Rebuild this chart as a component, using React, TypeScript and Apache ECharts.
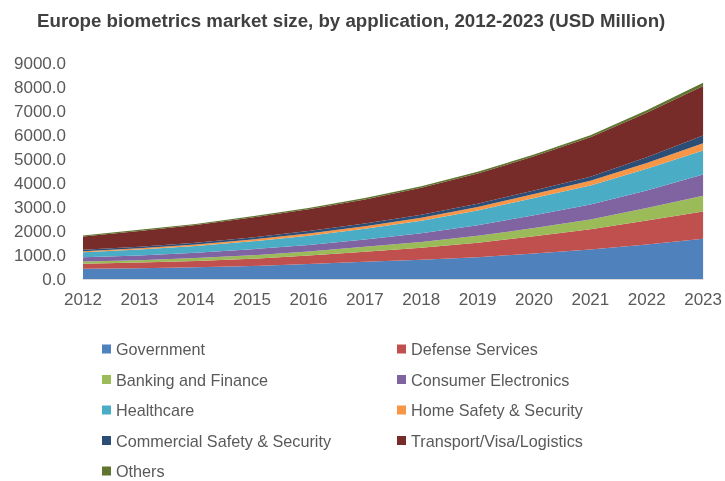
import React, { useEffect, useRef } from "react";
import * as echarts from "echarts";

const years = ["2012", "2013", "2014", "2015", "2016", "2017", "2018", "2019", "2020", "2021", "2022", "2023"];

const government = [430, 448, 490, 544, 628, 720, 800, 907, 1060, 1230, 1440, 1674];
const defense = [210, 235, 265, 300, 350, 420, 500, 600, 720, 840, 1000, 1142];
const banking = [85, 100, 120, 145, 170, 200, 240, 290, 340, 410, 520, 657];
const consumer = [184, 200, 220, 250, 270, 310, 370, 440, 540, 620, 730, 878];
const healthcare = [209, 245, 280, 330, 380, 440, 520, 620, 720, 800, 900, 1005];
const homeSafety = [43, 52, 60, 75, 95, 110, 125, 140, 160, 190, 240, 305];
const commercial = [53, 65, 80, 90, 105, 115, 125, 140, 150, 175, 240, 322];
const transport = [557, 660, 730, 830, 910, 1000, 1120, 1260, 1420, 1640, 1860, 2060];
const others = [40, 42, 45, 48, 52, 56, 62, 68, 76, 86, 100, 130];

const seriesNames = [
  "Government",
  "Defense Services",
  "Banking and Finance",
  "Consumer Electronics",
  "Healthcare",
  "Home Safety & Security",
  "Commercial Safety & Security",
  "Transport/Visa/Logistics",
  "Others",
];
const seriesData = [government, defense, banking, consumer, healthcare, homeSafety, commercial, transport, others];
const colors = ["#4f81bd", "#c0504d", "#9bbb59", "#8064a2", "#4bacc6", "#f79646", "#2c4d75", "#772c2a", "#5f7530"];

const leftLegend = ["Government", "Banking and Finance", "Healthcare", "Commercial Safety & Security", "Others"];
const rightLegend = ["Defense Services", "Consumer Electronics", "Home Safety & Security", "Transport/Visa/Logistics"];

export default function App() {
  const ref = useRef<HTMLDivElement>(null);
  useEffect(() => {
    if (!ref.current) return;
    const chart = echarts.init(ref.current, null, { renderer: "svg" });
    const font = "'Liberation Sans', Arial, sans-serif";
    const legendCommon = {
      orient: "vertical",
      icon: "rect",
      itemWidth: 9,
      itemHeight: 9,
      itemGap: 14.5,
      padding: 0,
      height: 170,
      selectedMode: false,
      textStyle: { color: "#595959", fontSize: 16.2, fontFamily: font },
    };
    chart.setOption({
      animation: false,
      color: colors,
      title: {
        text: "Europe biometrics market size, by application, 2012-2023 (USD Million)",
        left: 37,
        top: 11,
        padding: 0,
        textStyle: { color: "#404040", fontSize: 18.7, fontWeight: "bold", fontFamily: font },
      },
      grid: { left: 83, right: 21, top: 63, bottom: 202 },
      legend: [
        { ...legendCommon, left: 102, top: 341, data: leftLegend },
        { ...legendCommon, left: 397, top: 341, data: rightLegend },
      ],
      xAxis: {
        type: "category",
        data: years,
        boundaryGap: false,
        axisLine: { show: true, lineStyle: { color: "#d9d9d9" } },
        axisTick: { show: false },
        axisLabel: { color: "#595959", fontSize: 17, fontFamily: font, margin: 12 },
      },
      yAxis: {
        type: "value",
        min: 0,
        max: 9000,
        interval: 1000,
        splitLine: { show: false },
        axisLine: { show: false },
        axisTick: { show: false },
        axisLabel: {
          color: "#595959",
          fontSize: 17,
          fontFamily: font,
          margin: 17,
          formatter: (v: number) => v.toFixed(1),
        },
      },
      series: seriesNames.map((name, i) => ({
        name,
        type: "line",
        stack: "total",
        data: seriesData[i],
        symbol: "none",
        lineStyle: { width: 0 },
        areaStyle: { opacity: 1, color: colors[i] },
        itemStyle: { color: colors[i] },
      })),
    });
    return () => chart.dispose();
  }, []);
  return <div ref={ref} style={{ position: "fixed", left: 0, top: 0, width: 725, height: 481 }} />;
}
